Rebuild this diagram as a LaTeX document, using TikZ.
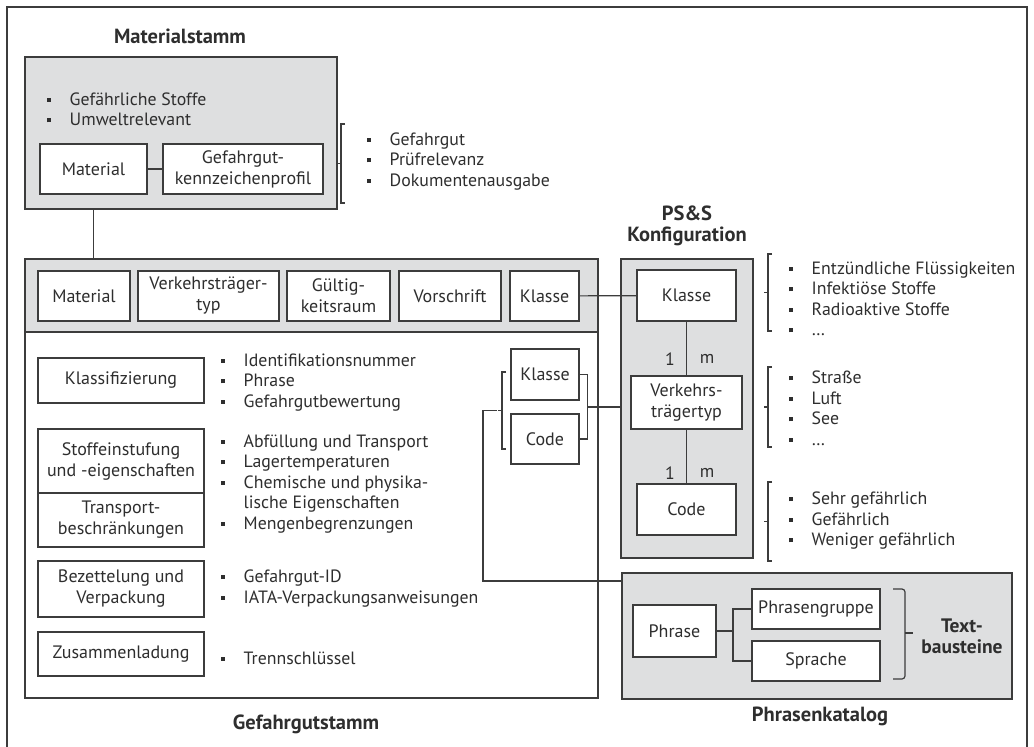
\documentclass[tikz,border=0pt]{standalone}
\usepackage{fontspec}
\setmainfont{PT Sans}
\usetikzlibrary{positioning}
\definecolor{cLine}{HTML}{3C3C3C}
\definecolor{cText}{HTML}{2E2E2E}
\definecolor{cGrp}{HTML}{DEDFE0}
\newcommand{\itm}{\makebox[23.5pt][l]{\hspace{0.5pt}\rule[3.5pt]{4pt}{4pt}}}
\newcommand{\lbrk}[3]{%
	\draw[ln] (#1+4,#2) -- (#1,#2) -- (#1,#3) -- (#1+4,#3);
	\draw[ln] (#1,{(#2+#3)/2}) -- (#1-4,{(#2+#3)/2});}

\begin{document}
\begin{tikzpicture}[
			x=1pt,y=-1pt,
			ln/.style={draw=cLine,line width=1.2pt},
			grp/.style={ln,fill=cGrp,inner sep=0pt},
			bx/.style={ln,fill=white,align=center,inner sep=2pt,text=cText,
				font=\fontsize{18}{21}\selectfont},
			lst/.style={anchor=west,inner sep=0pt,align=left,text=cText,
				font=\fontsize{17.8}{20.5}\selectfont},
			ttl/.style={align=center,text=cText,font=\bfseries\fontsize{20.5}{21.5}\selectfont}
			]
			\useasboundingbox (0,0) rectangle (1034,747);
			\draw[ln] (7,747) -- (7,7) -- (1027,7) -- (1027,747);

			\node[ttl](tms) at (180,36) {Materialstamm};
			\node[grp,minimum width=312pt,minimum height=152pt](msg) at (181,133) {};
			\node[lst](lms) at (46,109.5) {\itm Gefährliche Stoffe\\\itm Umweltrelevant};
			\node[bx,minimum width=107pt,minimum height=50pt](mmat) at (93.5,169) {Material};
			\node[bx,minimum width=160pt,minimum height=50pt](mgkp) at (243,169) {Gefahrgut-\\kennzeichenprofil};
			\draw[ln] (mmat) -- (mgkp);
			\lbrk{341}{124}{203}
			\node[lst](lgk) at (366,161.5) {\itm Gefahrgut\\\itm Prüfrelevanz\\\itm Dokumentenausgabe};

			\node[bx,minimum width=573pt,minimum height=439pt](gfs) at (311.5,478.5) {};
			\node[grp,minimum width=573pt,minimum height=73pt](gband) at (311.5,295.5) {};
			\draw[ln] (mmat |- msg.south) -- (mmat |- gfs.north);
			\node[bx,minimum width=92pt,minimum height=50pt](hmat) at (84,296) {Material};
			\node[bx,minimum width=141pt,minimum height=50pt](hvtt) at (208.5,296) {Verkehrsträger-\\typ};
			\node[bx,minimum width=103pt,minimum height=50pt](hgr) at (338.5,296) {Gültig-\\keitsraum};
			\node[bx,minimum width=102pt,minimum height=50pt](hvor) at (450,296) {Vorschrift};
			\node[bx,minimum width=69pt,minimum height=50pt](hkl) at (544.5,296) {Klasse};

			\node[bx,minimum width=166pt,minimum height=45pt](kla) at (121,380.5) {Klassifizierung};
			\node[bx,minimum width=166pt,minimum height=64pt](stof) at (121,461) {Stoffeinstufung\\und -eigenschaften};
			\node[bx,minimum width=166pt,minimum height=54pt](trans) at (121,520) {Transport-\\beschränkungen};
			\node[bx,minimum width=166pt,minimum height=56pt](bez) at (121,589) {Bezettelung und\\Verpackung};
			\node[bx,minimum width=166pt,minimum height=44pt](zus) at (121,654) {Zusammenladung};
			\node[lst](lkla) at (220,382.5) {\itm Identifikationsnummer\\\itm Phrase\\\itm Gefahrgutbewertung};
			\node[lst](lstof) at (220,484) {\itm Abfüllung und Transport\\\itm Lagertemperaturen\\\itm Chemische und physika-\\\makebox[23.5pt]{}lische Eigenschaften\\\itm Mengenbegrenzungen};
			\node[lst](lbez) at (220,588.5) {\itm Gefahrgut-ID\\\itm IATA-Verpackungsanweisungen};
			\node[lst](lzus) at (220,658) {\itm Trennschlüssel};
			\node[ttl](tgf) at (306,724) {Gefahrgutstamm};

			\node[bx,minimum width=68pt,minimum height=51pt](skl) at (545,374.5) {Klasse};
			\node[bx,minimum width=68pt,minimum height=50pt](sco) at (545,439) {Code};
			\lbrk{502}{372}{449}

			\node[ttl](tps) at (687,226) {PS\&S\\Konfiguration};
			\node[grp,minimum width=132pt,minimum height=299pt](psg) at (687,408.5) {};
			\node[bx,minimum width=99pt,minimum height=51pt](pkl) at (686.5,295.5) {Klasse};
			\node[bx,minimum width=111pt,minimum height=53pt](pvt) at (686.5,402.5) {Verkehrs-\\trägertyp};
			\node[bx,minimum width=99pt,minimum height=51pt](pco) at (686.5,509.5) {Code};
			\draw[ln] (pkl) -- (pvt);
			\draw[ln] (pvt) -- (pco);
			\node[lst,anchor=center](n1a) at (670,359) {1};
			\node[lst,anchor=center](m1a) at (707,359) {m};
			\node[lst,anchor=center](n1b) at (670,473) {1};
			\node[lst,anchor=center](m1b) at (707,473) {m};
			\draw[ln] (hkl) -- (pkl);
			\draw[ln] (skl.east) -- ++(8,0) |- (sco.east);
			\coordinate (rb) at (587,407);
			\draw[ln] (rb) -- (rb -| psg.west);

			\lbrk{768}{254}{331}
			\lbrk{768}{367}{447}
			\lbrk{768}{482}{561}
			\node[lst](lkl) at (788,299) {\itm Entzündliche Flüssigkeiten\\\itm Infektiöse Stoffe\\\itm Radioaktive Stoffe\\\itm …};
			\node[lst](lvt) at (788,408.5) {\itm Straße\\\itm Luft\\\itm See\\\itm …};
			\node[lst](lco) at (788,521) {\itm Sehr gefährlich\\\itm Gefährlich\\\itm Weniger gefährlich};

			\node[grp,minimum width=390pt,minimum height=126pt](phk) at (817,636) {};
			\node[bx,minimum width=83pt,minimum height=52pt](phr) at (674.5,631) {Phrase};
			\node[bx,minimum width=128pt,minimum height=40pt](pgr) at (816,609) {Phrasengruppe};
			\node[bx,minimum width=128pt,minimum height=40pt](spr) at (816,661) {Sprache};
			\coordinate (pj) at (733,631);
			\draw[ln] (phr.east) -- (pj);
			\draw[ln] (pgr.west) -| (pj |- spr.west) -- (spr.west);
			\draw[ln,rounded corners=3pt] (893,589) -| (905,679) -- (893,679);
			\draw[ln] (905,633) -- (913,633);
			\node[ttl,font=\bfseries\fontsize{19.5}{20.5}\selectfont](ttb) at (962,636.5) {Text-\\bausteine};
			\node[ttl](tpk) at (820,716) {Phrasenkatalog};

			\coordinate (lb) at (497,410.5);
			\draw[ln] (lb) -- ++(-14,0) |- (phk.west |- 0,581);
		\end{tikzpicture}
\end{document}
